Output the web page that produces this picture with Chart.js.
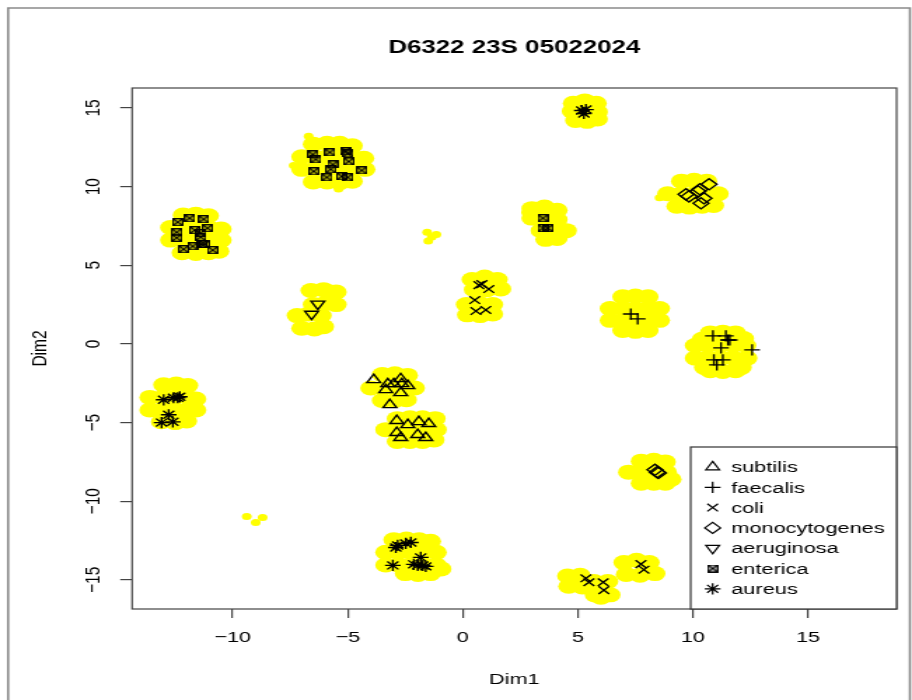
<!DOCTYPE html>
<html>
<head>
    <meta charset="utf-8">
    <title>D6322 23S 05022024</title>
    <script src="https://cdn.jsdelivr.net/npm/chart.js"></script>
    <style>
        body { margin: 0; background: #fff; }
    </style>
</head>
<body>
    <!-- the R image was stretched sideways, so draw narrow and let CSS widen it -->
    <canvas id="chart" width="651" height="700" style="display:block;width:912px;height:700px"></canvas>

    <script>
        // Tick values and labels
        const xTicks = [-10, -5, 0, 5, 10, 15];
        const xTickLabels = ["\u221210", "\u22125", "0", "5", "10", "15"];
        const yTicks = [-15, -10, -5, 0, 5, 10, 15];
        const yTickLabels = ["\u221215", "\u221210", "\u22125", "0", "5", "10", "15"];

        const species = ["subtilis", "faecalis", "coli", "monocytogenes", "aeruginosa", "enterica", "aureus"];

        // Labelled reads (Dim1, Dim2)
        const subtilis = [
            [-3.87, -2.28], [-3.26, -2.54], [-3.0, -2.54], [-2.7, -2.22], [-2.65, -2.54], [-2.39, -2.66],
            [-3.35, -2.92], [-2.7, -3.11], [-3.17, -3.87],
            [-2.87, -4.88], [-2.39, -5.14], [-1.91, -4.95], [-1.48, -5.07], [-2.87, -5.64], [-2.7, -5.96],
            [-1.96, -5.77], [-1.61, -5.96]
        ];
        const faecalis = [
            [7.3, 1.9], [7.6, 1.59],
            [10.87, 0.51], [11.43, 0.51], [11.52, 0.25], [11.6, 0.25], [11.22, -0.25], [12.57, -0.38],
            [10.91, -1.01], [11.3, -1.01], [11.04, -1.33]
        ];
        const coli = [
            [0.7, 3.74], [0.83, 3.8], [1.13, 3.49], [0.52, 2.79], [0.57, 2.09], [1.0, 2.16],
            [5.35, -14.9], [5.48, -15.15], [6.1, -15.15], [6.13, -15.65], [7.74, -14.0], [7.87, -14.35]
        ];
        const monocytogenes = [
            [9.7, 9.51], [9.83, 9.38], [10.22, 9.7], [10.3, 9.83], [10.48, 9.26], [10.7, 10.15], [10.35, 8.94],
            [8.35, -8.0], [8.45, -8.15], [8.5, -8.2]
        ];
        const aeruginosa = [[-6.3, 2.54], [-6.57, 1.9]];
        const enterica = [
            [-6.52, 12.05], [-6.39, 11.73], [-5.78, 12.18], [-5.09, 12.24], [-5.0, 12.11], [-5.65, 11.41],
            [-5.74, 11.1], [-4.96, 11.6], [-6.48, 10.97], [-5.91, 10.59], [-5.26, 10.65], [-5.0, 10.59], [-4.39, 11.03],
            [-12.39, 7.74], [-11.87, 7.99], [-11.26, 7.93], [-11.65, 7.23], [-11.09, 7.36], [-11.39, 7.04],
            [-12.43, 7.1], [-12.43, 6.75], [-11.39, 6.79], [-12.13, 6.02], [-11.74, 6.21], [-11.35, 6.34],
            [-11.22, 6.34], [-10.87, 5.96],
            [3.48, 7.99], [3.48, 7.36], [3.7, 7.36]
        ];
        const aureus = [
            [5.17, 14.84], [5.35, 14.9], [5.26, 14.65],
            [-13.0, -3.55], [-12.57, -3.42], [-12.39, -3.42], [-12.3, -3.36], [-12.78, -4.5], [-13.09, -5.0], [-12.6, -4.95],
            [-2.91, -12.94], [-2.83, -12.81], [-2.48, -12.68], [-2.26, -12.62], [-3.04, -14.08], [-2.13, -14.01],
            [-1.83, -13.57], [-1.74, -14.08], [-1.61, -14.14], [-1.96, -14.08]
        ];

        // All reads, drawn in yellow underneath
        const allReads = [
            [4.8, 15.3], [5.3, 15.45], [5.8, 15.3], [4.75, 14.8], [5.3, 14.8], [5.85, 14.75], [4.9, 14.2], [5.4, 14.15], [5.85, 14.3],
            [-6.5, 12.7], [-5.9, 12.75], [-5.35, 12.75], [-4.8, 12.6],
            [-7.0, 11.9], [-6.45, 11.9], [-5.9, 11.9], [-5.35, 11.9], [-4.8, 11.9], [-4.3, 11.8],
            [-7.0, 11.1], [-6.45, 11.1], [-5.9, 11.1], [-5.35, 11.1], [-4.8, 11.1], [-4.25, 11.1],
            [-6.5, 10.3], [-5.9, 10.3], [-5.35, 10.25], [-4.8, 10.35],
            [-12.15, 8.2], [-11.6, 8.25], [-11.05, 8.15],
            [-12.7, 7.4], [-12.15, 7.4], [-11.6, 7.4], [-11.05, 7.4], [-10.5, 7.3],
            [-12.7, 6.6], [-12.15, 6.6], [-11.6, 6.6], [-11.05, 6.6], [-10.5, 6.6],
            [-12.2, 5.8], [-11.6, 5.75], [-11.05, 5.8], [-10.6, 5.9],
            [3.0, 8.6], [3.55, 8.7], [4.1, 8.5], [3.0, 8.0], [3.55, 7.9], [4.1, 7.9],
            [3.4, 7.2], [3.95, 7.3], [4.5, 7.2], [3.6, 6.65], [4.1, 6.7],
            [9.5, 10.35], [10.05, 10.4], [10.6, 10.35],
            [8.9, 9.55], [9.5, 9.55], [10.05, 9.55], [10.6, 9.55], [11.1, 9.55],
            [9.3, 8.75], [9.85, 8.7], [10.4, 8.75], [10.9, 8.8],
            [0.4, 4.1], [0.95, 4.25], [1.5, 4.1], [0.5, 3.45], [1.05, 3.45], [1.65, 3.5],
            [0.15, 2.5], [0.7, 2.6], [1.3, 2.5], [0.2, 1.85], [0.75, 1.8], [1.3, 1.9],
            [-6.6, 3.4], [-6.05, 3.45], [-5.5, 3.3], [-6.5, 2.5], [-5.95, 2.6], [-5.5, 2.5],
            [-7.2, 1.8], [-6.7, 1.9], [-6.15, 1.8], [-7.0, 1.0], [-6.45, 0.95], [-6.05, 1.1],
            [6.95, 3.0], [7.5, 3.05], [8.05, 3.0],
            [6.4, 2.25], [6.95, 2.25], [7.5, 2.25], [8.05, 2.25], [8.55, 2.25],
            [6.4, 1.5], [6.95, 1.5], [7.5, 1.5], [8.05, 1.5], [8.55, 1.5],
            [6.95, 0.85], [7.5, 0.8], [8.05, 0.85],
            [10.75, 0.7], [11.3, 0.75], [11.85, 0.7], [10.4, 0.3], [12.2, 0.35],
            [10.1, -0.1], [10.65, -0.1], [11.2, -0.1], [11.75, -0.1], [12.3, -0.1],
            [10.1, -0.9], [10.65, -0.9], [11.2, -0.9], [11.75, -0.9], [12.35, -0.9],
            [10.5, -1.5], [12.1, -1.5], [10.75, -1.7], [11.3, -1.75], [11.85, -1.7],
            [-13.0, -2.6], [-12.45, -2.55], [-11.95, -2.65],
            [-13.6, -3.4], [-13.05, -3.4], [-12.5, -3.4], [-11.95, -3.4], [-11.6, -3.5],
            [-13.6, -4.2], [-13.05, -4.2], [-12.5, -4.2], [-11.95, -4.2], [-11.6, -4.2],
            [-13.1, -4.95], [-12.5, -5.0], [-12.0, -4.9],
            [-3.5, -1.95], [-2.95, -1.9], [-2.4, -2.0],
            [-4.0, -2.8], [-3.45, -2.8], [-2.9, -2.8], [-2.35, -2.8], [-2.1, -2.8],
            [-3.5, -3.6], [-2.95, -3.6], [-2.45, -3.55],
            [-2.85, -4.75], [-2.3, -4.7], [-1.75, -4.7], [-1.2, -4.75],
            [-3.35, -5.45], [-2.8, -5.45], [-2.25, -5.45], [-1.7, -5.45], [-1.15, -5.45],
            [-2.85, -6.2], [-2.3, -6.2], [-1.75, -6.2], [-1.25, -6.1],
            [7.75, -7.45], [8.3, -7.4], [8.8, -7.5],
            [7.2, -8.15], [7.75, -8.15], [8.3, -8.15], [8.85, -8.15],
            [7.75, -8.85], [8.3, -8.85], [8.8, -8.85], [9.05, -8.6],
            [-3.0, -12.45], [-2.45, -12.4], [-1.9, -12.45], [-1.4, -12.55],
            [-3.35, -13.25], [-2.8, -13.25], [-2.25, -13.25], [-1.7, -13.25], [-1.15, -13.25],
            [-3.35, -14.05], [-2.8, -14.05], [-2.25, -14.05], [-1.7, -14.05], [-1.15, -14.05],
            [-2.5, -14.6], [-1.95, -14.65], [-1.4, -14.6], [-0.95, -14.3],
            [4.55, -14.75], [5.1, -14.7], [4.6, -15.4], [5.2, -15.45],
            [5.7, -15.1], [6.3, -15.1], [5.75, -15.95], [6.4, -15.95], [6.0, -16.1],
            [7.0, -13.9], [7.55, -13.75], [8.1, -13.9], [8.35, -14.6], [7.1, -14.65], [7.7, -14.7]
        ];
        // lone reads away from the big clouds
        const strayReads = [
            [-1.55, 7.1], [-1.35, 6.8], [-1.15, 6.95], [-1.5, 6.55],
            [-9.39, -10.97], [-9.0, -11.35], [-8.7, -11.03],
            [-6.7, 13.2], [-5.4, 9.85], [8.55, 9.3], [2.75, 8.35], [-7.35, 11.35]
        ];

        const seriesData = { subtilis, faecalis, coli, monocytogenes, aeruginosa, enterica, aureus };

        const FONT = "'Liberation Sans', Arial, sans-serif";

        // R pch 7: square with a cross inside
        function squareCross(size) {
            const c = document.createElement("canvas");
            c.width = size; c.height = size;
            const g = c.getContext("2d");
            g.strokeStyle = "#000";
            g.lineWidth = 1.3;
            g.strokeRect(0.7, 0.7, size - 1.4, size - 1.4);
            g.beginPath();
            g.moveTo(0.7, 0.7); g.lineTo(size - 0.7, size - 0.7);
            g.moveTo(size - 0.7, 0.7); g.lineTo(0.7, size - 0.7);
            g.stroke();
            return c;
        }

        const markerStyle = {
            subtilis: { pointStyle: "triangle", rotation: 0, radius: 5.6 },
            faecalis: { pointStyle: "cross", rotation: 0, radius: 5.6 },
            coli: { pointStyle: "crossRot", rotation: 0, radius: 5.4 },
            monocytogenes: { pointStyle: "rectRot", rotation: 0, radius: 5.6 },
            aeruginosa: { pointStyle: "triangle", rotation: 180, radius: 5.6 },
            enterica: { pointStyle: squareCross(8), rotation: 0, radius: 4 },
            aureus: { pointStyle: "star", rotation: 0, radius: 5.6 }
        };

        const toXY = arr => arr.map(p => ({ x: p[0], y: p[1] }));

        const datasets = species.map(name => ({
            label: name,
            data: toXY(seriesData[name]),
            pointStyle: markerStyle[name].pointStyle,
            rotation: markerStyle[name].rotation,
            pointRadius: markerStyle[name].radius,
            borderColor: "#000",
            backgroundColor: "rgba(0,0,0,0)",
            borderWidth: 1.35,
            order: 1
        }));
        datasets.push({
            label: "reads",
            data: toXY(allReads),
            pointRadius: 7.5,
            borderWidth: 0,
            backgroundColor: "#ffff00",
            order: 10
        });
        datasets.push({
            label: "stray",
            data: toXY(strayReads),
            pointRadius: 3.5,
            borderWidth: 0,
            backgroundColor: "#ffff00",
            order: 10
        });

        // Title, box, rotated y labels, legend and outer frame, R style
        const rDecor = {
            id: "rDecor",
            beforeDraw(chart) {
                const c = chart.ctx;
                c.save();
                c.fillStyle = "#fff";
                c.fillRect(0, 0, chart.width, chart.height);
                c.restore();
            },
            afterDraw(chart) {
                const c = chart.ctx;
                const a = chart.chartArea;
                const yScale = chart.scales.y;
                c.save();

                // outer frame
                c.strokeStyle = "#8a8a8a";
                c.lineWidth = 1.6;
                c.beginPath();
                c.moveTo(5.8, 710); c.lineTo(5.8, 8); c.lineTo(649.5, 8); c.lineTo(649.5, 710);
                c.stroke();

                // plot box
                c.strokeStyle = "#444";
                c.lineWidth = 1.2;
                c.strokeRect(a.left, a.top, a.right - a.left, a.bottom - a.top);

                // title
                c.fillStyle = "#000";
                c.font = "bold 18.5px " + FONT;
                c.textAlign = "center";
                c.textBaseline = "middle";
                c.fillText("D6322 23S 05022024", (a.left + a.right) / 2, 48);

                // y tick labels, rotated like R
                c.font = "15.5px " + FONT;
                yScale.ticks.forEach((t, i) => {
                    const py = yScale.getPixelForValue(t.value);
                    c.save();
                    c.translate(a.left - 28, py);
                    c.rotate(-Math.PI / 2);
                    c.fillText(yTickLabels[i], 0, 0);
                    c.restore();
                });

                // legend
                const lw = 147, lh = 162;
                const lx = a.right - lw, ly = a.bottom - lh;
                c.fillStyle = "#fff";
                c.fillRect(lx, ly, lw, lh);
                c.strokeStyle = "#333";
                c.lineWidth = 1.2;
                c.strokeRect(lx, ly, lw, lh);
                c.textAlign = "left";
                species.forEach((name, i) => {
                    const rowY = ly + 20 + i * 20.3;
                    const st = markerStyle[name];
                    c.strokeStyle = "#000";
                    c.fillStyle = "rgba(0,0,0,0)";
                    c.lineWidth = 1.2;
                    if (Chart.helpers && Chart.helpers.drawPoint) {
                        Chart.helpers.drawPoint(c, {
                            pointStyle: st.pointStyle, rotation: st.rotation,
                            radius: st.radius, borderWidth: 1.2
                        }, lx + 15.7, rowY);
                    }
                    c.fillStyle = "#000";
                    c.fillText(name, lx + 29, rowY + 1);
                });
                c.restore();
            }
        };

        const axisFont = { family: FONT, size: 15.5 };

        new Chart(document.getElementById("chart"), {
            type: "scatter",
            data: { datasets },
            options: {
                responsive: false,
                maintainAspectRatio: false,
                devicePixelRatio: 1,
                animation: false,
                events: [],
                layout: { padding: { top: 88, right: 11, left: 0, bottom: 0 } },
                plugins: {
                    legend: { display: false },
                    tooltip: { enabled: false },
                    title: { display: false }
                },
                scales: {
                    x: {
                        type: "linear",
                        min: -14.37,
                        max: 18.85,
                        afterBuildTicks: s => { s.ticks = xTicks.map(v => ({ value: v })); },
                        afterFit: s => { s.height = 91; },
                        ticks: {
                            autoSkip: false, maxRotation: 0, minRotation: 0,
                            padding: 10, color: "#000", font: axisFont,
                            callback: (v, i) => xTickLabels[i]
                        },
                        grid: { drawOnChartArea: false, drawTicks: true, tickLength: 9, color: "#444", lineWidth: 1.2 },
                        border: { display: false },
                        title: { display: true, text: "Dim1", color: "#000", font: axisFont, padding: { top: 0, bottom: 11 } }
                    },
                    y: {
                        type: "linear",
                        min: -16.85,
                        max: 16.27,
                        afterBuildTicks: s => { s.ticks = yTicks.map(v => ({ value: v })); },
                        afterFit: s => { s.width = 94.3; },
                        ticks: {
                            autoSkip: false, color: "rgba(0,0,0,0)", font: axisFont,
                            callback: (v, i) => yTickLabels[i]
                        },
                        grid: { drawOnChartArea: false, drawTicks: true, tickLength: 8.5, color: "#444", lineWidth: 1.2 },
                        border: { display: false },
                        title: { display: true, text: "Dim2", color: "#000", font: axisFont, padding: { top: 19.3, bottom: 0 } }
                    }
                }
            },
            plugins: [rDecor]
        });
    </script>
</body>
</html>
